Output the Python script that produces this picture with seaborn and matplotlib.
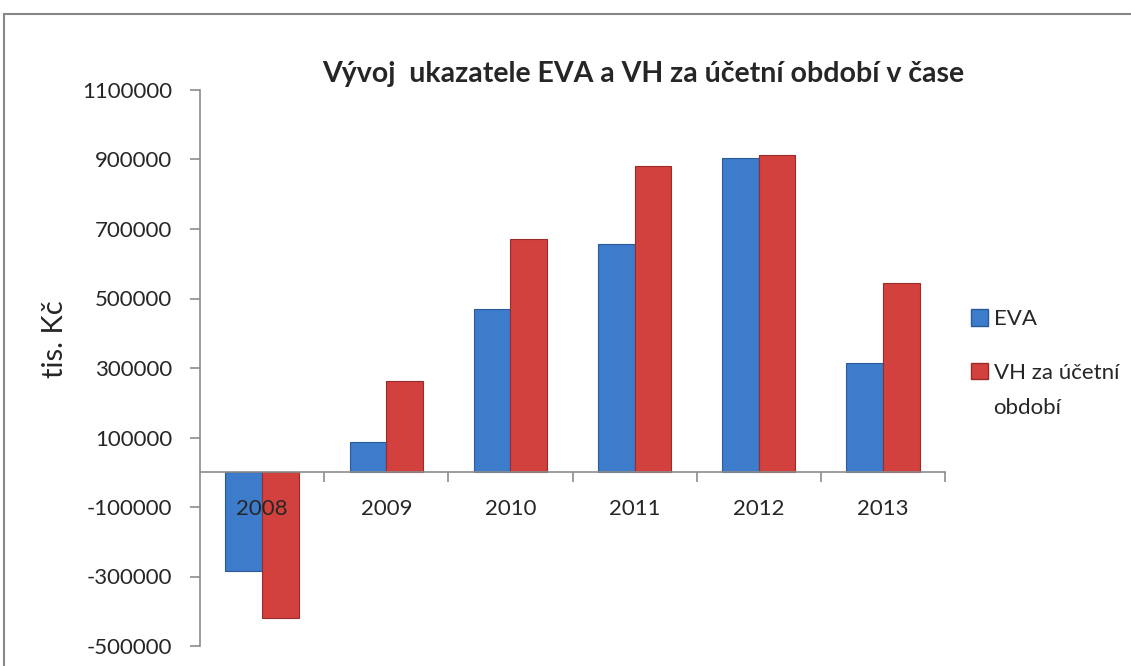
import matplotlib.pyplot as plt
import matplotlib.patches as mpatches
import seaborn as sns
import pandas as pd
from matplotlib.ticker import FixedLocator, NullFormatter

years = ["2008", "2009", "2010", "2011", "2012", "2013"]
eva = [-283000, 88000, 469000, 656000, 903000, 313000]
vh = [-420000, 262000, 670000, 880000, 912000, 546000]
series = ["EVA", "VH za účetní období"]
colors = ["#3D7BCB", "#D2413E"]
edges = ["#2A5B99", "#9A2C2A"]
yticks = list(range(-500000, 1100001, 200000))

df = pd.DataFrame({
    "rok": years * 2,
    "hodnota": eva + vh,
    "ukazatel": [series[0]] * len(years) + [series[1]] * len(years),
})

sns.set_style("white")
plt.rcParams["font.family"] = ["Lato", "DejaVu Sans"]

fig = plt.figure(figsize=(11.31, 6.66), dpi=100)
ax = fig.add_axes([200 / 1131, 1 - 646 / 666, 745 / 1131, 556 / 666])

sns.barplot(data=df, x="rok", y="hodnota", hue="ukazatel", palette=colors,
            width=0.59, gap=0, ax=ax, legend=False, saturation=1)
for i, cont in enumerate(ax.containers):
    for bar in cont:
        bar.set_edgecolor(edges[i])
        bar.set_linewidth(0.8)
        bar.set_zorder(1)
ax.set_axisbelow(False)
ax.xaxis.set_zorder(5)

ax.set_xlim(-0.5, len(years) - 0.5)
ax.set_ylim(-500000, 1100000)
ax.set_yticks(yticks)
ax.set_yticklabels([str(v) for v in yticks], fontsize=16)
ax.set_xlabel("")
ax.set_ylabel("tis. Kč", fontsize=21)
ax.yaxis.set_label_coords(-0.177, 0.552)

for s in ["top", "right"]:
    ax.spines[s].set_visible(False)
ax.spines["bottom"].set_position(("data", 0))
for s in ["left", "bottom"]:
    ax.spines[s].set_color("#8C8C8C")
    ax.spines[s].set_linewidth(1.2)

ax.tick_params(axis="y", direction="out", length=7, color="#8C8C8C", width=1.2, pad=13, left=True)
ax.tick_params(axis="x", which="major", length=0, labelsize=16, pad=19)
ax.xaxis.set_minor_locator(FixedLocator([i + 0.5 for i in range(len(years))]))
ax.xaxis.set_minor_formatter(NullFormatter())
ax.tick_params(axis="x", which="minor", direction="out", length=7, color="#8C8C8C", width=1.2, bottom=True)

fig.text(643 / 1131, 1 - 74 / 666, "Vývoj  ukazatele EVA a VH za účetní období v čase",
         ha="center", va="center", fontsize=20.5, fontweight="bold")

# legend: second entry wraps, marker sits on its first line
handles = [mpatches.Patch(facecolor=colors[i], edgecolor=edges[i]) for i in range(2)]
fig.legend(handles=handles, labels=["EVA", "VH za účetní"], loc="center left",
           bbox_to_anchor=(971 / 1131, 1 - 346 / 666), frameon=False, fontsize=16,
           handlelength=0.75, handleheight=0.75, handletextpad=0.3, labelspacing=1.5,
           borderpad=0, borderaxespad=0)
fig.text(993 / 1131, 1 - 408 / 666, "období", ha="left", va="center", fontsize=16)

fig.patches.append(mpatches.Rectangle((4 / 1131, -0.05), 1.1, 1 - 14 / 666 + 0.05,
                                      transform=fig.transFigure, fill=False,
                                      edgecolor="#878787", linewidth=1.5))

plt.savefig("out.png", dpi=100)
plt.close()
